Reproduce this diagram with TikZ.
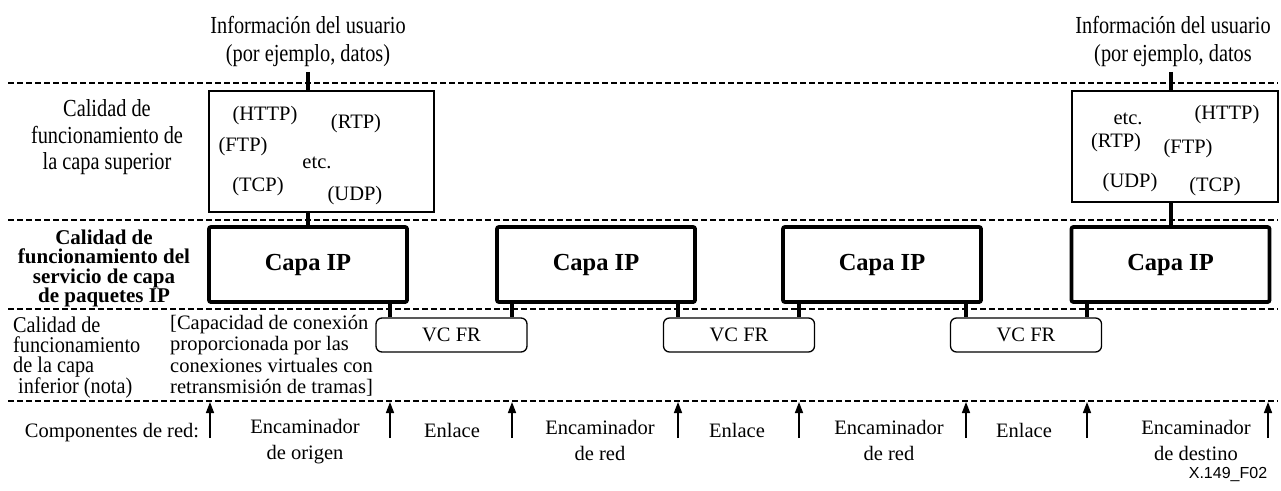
\documentclass[tikz,border=0pt]{standalone}
\usepackage{fontspec}
\setmainfont{Liberation Serif}
\newfontfamily\figsans{Liberation Sans}
\newfontfamily\tallserif[FakeStretch=0.83]{Liberation Serif}
\newfontfamily\narrowserif[FakeStretch=0.9]{Liberation Serif}
\usetikzlibrary{arrows.meta}

\begin{document}
\begin{tikzpicture}[x=1pt,y=-1pt,
  txt/.style={inner sep=0pt, font=\fontsize{20.5}{26}\selectfont},
  tall/.style={inner sep=0pt, align=center},
  proto/.style={inner sep=0pt, font=\fontsize{20.5}{24}\selectfont},
  upbox/.style={draw, line width=1.3pt, inner sep=0pt},
  ipbox/.style={draw, line width=3.8pt, rounded corners=2pt, inner sep=0pt,
    minimum width=198pt, minimum height=75pt,
    font=\fontsize{24.5}{28}\selectfont\bfseries},
  vcbox/.style={draw, line width=1.3pt, rounded corners=6pt, inner sep=0pt,
    minimum width=151pt, minimum height=34pt,
    font=\fontsize{20.5}{24}\selectfont},
  layer/.style={line width=1.5pt, dash pattern=on 6pt off 3pt},
  stem/.style={line width=4pt},
  comp/.style={line width=1.5pt, -{Triangle[length=11pt,width=8pt]}}
]
\useasboundingbox (0,0) rectangle (1281,490);

% layer separators
\draw[layer] (8,83) -- (1278,83);
\draw[layer] (8,220) -- (1278,220);
\draw[layer] (8,309) -- (1278,309);
\draw[layer] (8,401) -- (1278,401);

% user information
\node[tall, font=\tallserif\fontsize{24.5}{28}\selectfont] (info1) at (308,41.5)
  {Información del usuario\\(por ejemplo, datos)};
\node[tall, font=\tallserif\fontsize{24.5}{28}\selectfont] (info2) at (1173,41.5)
  {Información del usuario\\(por ejemplo, datos};

% left-hand layer labels
\node[tall, font=\tallserif\fontsize{24.5}{26.5}\selectfont] (lblup) at (107,137.5)
  {Calidad de\\funcionamiento de\\la capa superior};
\node[txt, align=center, font=\fontsize{21}{19.5}\selectfont\bfseries] (lblip) at (104,268.5)
  {Calidad de\\funcionamiento del\\servicio de capa\\de paquetes IP};
\node[txt, align=left, anchor=west, font=\narrowserif\fontsize{22.5}{20}\selectfont] (lbllow) at (13,357.5)
  {Calidad de\\funcionamiento\\de la capa\\\hspace*{5pt}inferior (nota)};
\node[txt, align=left, anchor=west, font=\fontsize{20.5}{21.5}\selectfont] (lblfr) at (170,355.5)
  {[Capacidad de conexión\\proporcionada por las\\conexiones virtuales con\\retransmisión de tramas]};

% upper-layer boxes
\node[upbox, minimum width=225pt, minimum height=121pt] (ub1) at (321.5,151.5) {};
\node[proto] (p1a) at (265,116) {(HTTP)};
\node[proto] (p1b) at (356,124) {(RTP)};
\node[proto] (p1c) at (243,147) {(FTP)};
\node[proto, anchor=base] (p1d) at (317,168) {etc.};
\node[proto] (p1e) at (258,187) {(TCP)};
\node[proto] (p1f) at (355,196) {(UDP)};

\node[upbox, minimum width=206pt, minimum height=111pt] (ub2) at (1175,146.5) {};
\node[proto, anchor=base] (p2a) at (1128,124) {etc.};
\node[proto] (p2b) at (1227,115) {(HTTP)};
\node[proto] (p2c) at (1116,143) {(RTP)};
\node[proto] (p2d) at (1188,149) {(FTP)};
\node[proto] (p2e) at (1130,183) {(UDP)};
\node[proto] (p2f) at (1215,187) {(TCP)};

% IP layer
\node[ipbox] (ip1) at (308,264.5) {Capa IP};
\node[ipbox] (ip2) at (596,264.5) {Capa IP};
\node[ipbox] (ip3) at (882,264.5) {Capa IP};
\node[ipbox] (ip4) at (1170.5,264.5) {Capa IP};

% frame relay virtual connections
\node[vcbox] (vc1) at (451.5,335) {VC FR};
\node[vcbox] (vc2) at (739,335) {VC FR};
\node[vcbox] (vc3) at (1026,335) {VC FR};

% network component boundaries
\coordinate (a0) at (210,438);
\coordinate (a1) at (390,438);
\coordinate (a2) at (512,438);
\coordinate (a3) at (678,438);
\coordinate (a4) at (799,438);
\coordinate (a5) at (966,438);
\coordinate (a6) at (1087,438);
\coordinate (a7) at (1268,438);
\foreach \c in {a0,a1,a2,a3,a4,a5,a6,a7}
  \draw[comp] (\c) -- ++(0,-36);

% vertical links between layers
\draw[stem] (info1.south -| ip1) ++(0,5) -- (ub1.north -| ip1);
\draw[stem] (ub1.south -| ip1) -- (ip1.north);
\draw[stem] (info2.south -| ip4) ++(0,5) -- (ub2.north -| ip4);
\draw[stem] (ub2.south -| ip4) -- (ip4.north);
\draw[stem] (ip1.south -| a1) -- (vc1.north -| a1);
\draw[stem] (ip2.south -| a2) -- (vc1.north -| a2);
\draw[stem] (ip2.south -| a3) -- (vc2.north -| a3);
\draw[stem] (ip3.south -| a4) -- (vc2.north -| a4);
\draw[stem] (ip3.south -| a5) -- (vc3.north -| a5);
\draw[stem] (ip4.south -| a6) -- (vc3.north -| a6);

% network components row
\node[txt, anchor=base] (comp) at (112,437) {Componentes de red:};
\node[txt, align=center] (enc1) at (305,442) {Encaminador\\de origen};
\node[txt, anchor=base] (lnk1) at (452,437) {Enlace};
\node[txt, align=center] (enc2) at (600,440) {Encaminador\\de red};
\node[txt, anchor=base] (lnk2) at (737,437) {Enlace};
\node[txt, align=center] (enc3) at (889,440) {Encaminador\\de red};
\node[txt, anchor=base] (lnk3) at (1024,437) {Enlace};
\node[txt, align=center] (enc4) at (1196,440) {Encaminador\\de destino};

\node[inner sep=0pt, anchor=base, font=\figsans\fontsize{16}{18}\selectfont] (figid) at (1228,478) {X.149\_F02};
\end{tikzpicture}
\end{document}
